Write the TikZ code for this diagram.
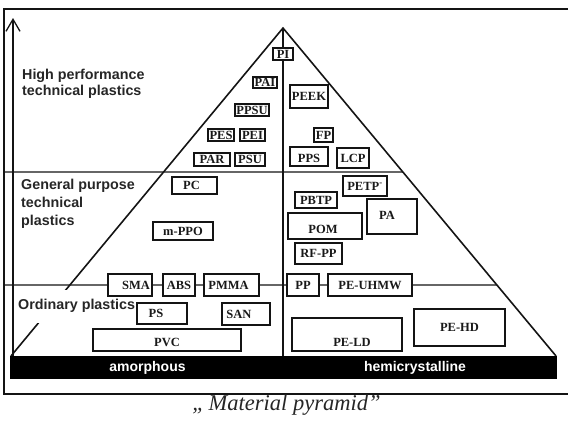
\documentclass[tikz,border=0pt]{standalone}
\usepackage{fontspec}
\setmainfont{Liberation Serif}
\setsansfont{Liberation Sans}
\usetikzlibrary{arrows.meta,calc}

% one material box: [label shift]{name}{x1}{y1}{x2}{y2}{text}
\newcommand\matbox[7][]{%
  \node[mat, minimum width={(#5-#3)*1pt}, minimum height={(#6-#4)*1pt},
        label={[boxtxt,#1]center:#7}] (#2) at ({(#3+#5)/2},{(#4+#6)/2}) {};}

\begin{document}
\begin{tikzpicture}[x=1pt,y=-1pt,
  ink/.style={black!92},
  frame/.style={ink, line width=1.1pt},
  edge/.style={ink, line width=1.6pt},
  divider/.style={ink, line width=1.1pt},
  axis/.style={ink, line width=1.5pt, -{Straight Barb[length=12pt,width=14pt,line width=1.3pt]}},
  mat/.style={draw=black!92, fill=white, line width=1.1pt, inner sep=0pt},
  boxtxt/.style={inner sep=0pt, text=black!90, font=\bfseries\fontsize{12.5}{14}\selectfont},
  grouplabel/.style={inner sep=0pt, align=left, text=black!85},
  bartext/.style={inner sep=0pt, text=white, font=\sffamily\bfseries\fontsize{14}{16}\selectfont},
]
\useasboundingbox (0,0) rectangle (568,421);

% outer frame (open to the right)
\draw[frame] (568,9) -- (4,9) -- (4,394) -- (568,394);

% vertical performance axis
\coordinate (axis-foot) at (13,356);
\coordinate (axis-top) at (13,18);
\draw[axis] (axis-foot) -- (axis-top);

% pyramid
\coordinate (apex) at (283,28);
\coordinate (bl) at (11,356);
\coordinate (br) at (556,356);
\coordinate (mid) at (283,356);
\coordinate (r1) at ($(apex)!0.439!(br)$);
\coordinate (r2) at ($(apex)!0.7835!(br)$);
\coordinate (d1) at (4,172);
\coordinate (d2) at (4,285);

\draw[divider] (d1) -- (r1);
\draw[edge] (bl) -- (apex) -- (br);
\draw[edge] (apex) -- (mid);

% base bar
\fill[black] (10,356) rectangle (557,379);
\node[bartext, anchor=base] (amorph) at (147.5,371.5) {amorphous};
\node[bartext, anchor=base] (hemi) at (415,371.5) {hemicrystalline};

% group labels
\node[grouplabel, anchor=north west, font=\sffamily\bfseries\fontsize{14.3}{16}\selectfont]
  (hp) at (22,69) {High performance\\technical plastics};
\node[grouplabel, anchor=north west, font=\sffamily\bfseries\fontsize{14.3}{18}\selectfont]
  (gp) at (21,178.6) {General purpose\\technical\\plastics};
\node[grouplabel, anchor=west, fill=white, minimum height=33pt, inner xsep=1pt,
      font=\sffamily\bfseries\fontsize{14.3}{16}\selectfont]
  (ordinary) at (17,306) {Ordinary plastics};

% amorphous side
\matbox{pi}{273}{48}{293}{60}{PI}
\matbox{pai}{253}{77}{277}{88}{PAI}
\matbox{ppsu}{235}{104}{269}{116}{PPSU}
\matbox{pes}{208}{129}{234}{141}{PES}
\matbox{pei}{240}{129}{265}{141}{PEI}
\matbox{par}{194}{153}{230}{166}{PAR}
\matbox{psu}{235}{153}{265}{166}{PSU}
\matbox[xshift=-3pt]{pc}{172}{177}{217}{194}{PC}
\matbox{mppo}{153}{222}{213}{240}{m-PPO}
\matbox[xshift=6pt]{sma}{108}{274}{152}{296}{SMA}
\matbox{abs}{163}{274}{195}{296}{ABS}
\matbox[xshift=-3pt]{pmma}{204}{274}{259}{296}{PMMA}
\matbox[xshift=-6pt]{ps}{137}{303}{187}{324}{PS}
\matbox[xshift=-7pt]{san}{222}{303}{270}{325}{SAN}
\matbox[yshift=-2pt]{pvc}{93}{329}{241}{351}{PVC}

% hemicrystalline side
\matbox{peek}{290}{85}{328}{108}{PEEK}
\matbox{fp}{314}{128}{333}{142}{FP}
\matbox[yshift=-2pt]{pps}{290}{147}{328}{166}{PPS}
\matbox{lcp}{337}{148}{369}{168}{LCP}
\matbox{petp}{343}{176}{387}{196}{PETP\textsuperscript{-}}
\matbox{pbtp}{295}{192}{337}{208}{PBTP}
\matbox[xshift=-5pt,yshift=1.5pt]{pa}{367}{199}{417}{234}{PA}
\matbox[xshift=-2pt,yshift=-3pt]{pom}{288}{213}{362}{239}{POM}
\matbox{rfpp}{295}{243}{342}{264}{RF-PP}
\matbox{pp}{287}{274}{319}{296}{PP}
\matbox{uhmw}{328}{274}{412}{296}{PE-UHMW}
\matbox[xshift=5pt,yshift=-7.5pt]{peld}{292}{318}{402}{351}{PE-LD}
\matbox{pehd}{414}{309}{505}{346}{PE-HD}

% boundary between ordinary and general purpose plastics
\draw[divider] (d2) -- (sma) -- (abs) -- (pmma) -- (pp) -- (uhmw) -- (r2);

% caption
\node[anchor=base, inner sep=0pt, text=black!85, font=\itshape\fontsize{22.5}{24}\selectfont]
  (caption) at (286.5,410) {„\,Material pyramid”};
\end{tikzpicture}
\end{document}
